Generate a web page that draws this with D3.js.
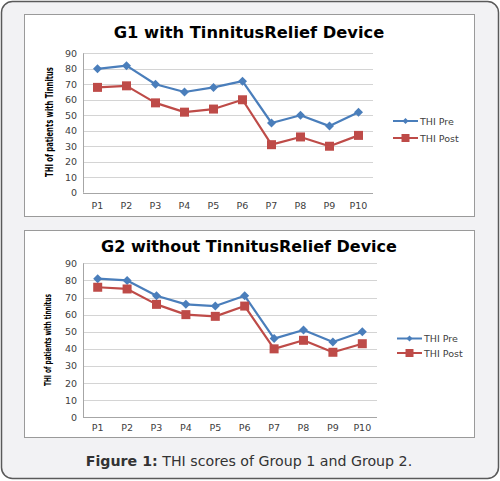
<!DOCTYPE html>
<html>
<head>
<meta charset="utf-8">
<script src="https://cdn.jsdelivr.net/npm/d3@7"></script>
<style>
  body { margin: 0; background: #fff; }
  text { font-family: "DejaVu Sans", Verdana, sans-serif; }
</style>
</head>
<body>
<div id="wrapper"></div>
<script>
const patients = ["P1", "P2", "P3", "P4", "P5", "P6", "P7", "P8", "P9", "P10"]
const yTicks = [0, 10, 20, 30, 40, 50, 60, 70, 80, 90]
const seriesNames = ["THI Pre", "THI Post"]

const g1Pre  = [80, 82, 70, 65, 68, 72, 45, 50, 43, 52]
const g1Post = [68, 69, 58, 52, 54, 60, 31, 36, 30, 37]
const g2Pre  = [81, 80, 71, 66, 65, 71, 46, 51, 44, 50]
const g2Post = [76, 75, 66, 60, 59, 65, 40, 45, 38, 43]

const colors = { pre: "#4a7ebb", post: "#be4b48" }

const width = 500
const height = 481

const svg = d3.select("#wrapper")
  .append("svg")
    .attr("width", width)
    .attr("height", height)

// outer frame
svg.append("rect")
  .attr("x", 1.5).attr("y", 1.5)
  .attr("width", width - 3).attr("height", 477)
  .attr("rx", 11)
  .attr("fill", "#f2f2f4")
  .attr("stroke", "#5a5a5a")
  .attr("stroke-width", 1.5)

const panels = [
  {
    title: "G1 with TinnitusRelief Device",
    yLabel: "THI of patients with Tinnitus",
    pre: g1Pre, post: g1Post,
    box: { x: 24, y: 14, w: 450, h: 202 },
    plot: { left: 83, right: 373, top: 53.3, bottom: 192.7 },
    titleY: 38, titleSize: 16.3,
    yLabelX: 52.5, yLabelY: 122, yLabelSize: 11, yLabelLen: 110,
    xLabelY: 209, legendY: [121, 138]
  },
  {
    title: "G2 without TinnitusRelief Device",
    yLabel: "THI of patients with tinnitus",
    pre: g2Pre, post: g2Post,
    box: { x: 24, y: 230, w: 450, h: 207 },
    plot: { left: 83, right: 377, top: 263.3, bottom: 417.3 },
    titleY: 251.5, titleSize: 16,
    yLabelX: 51, yLabelY: 340, yLabelSize: 9.6, yLabelLen: 92,
    xLabelY: 431, legendY: [338.5, 353]
  }
]

panels.forEach(drawPanel)

function drawPanel(p) {
  const g = svg.append("g")

  g.append("rect")
    .attr("x", p.box.x + 0.5).attr("y", p.box.y + 0.5)
    .attr("width", p.box.w).attr("height", p.box.h)
    .attr("fill", "#fff")
    .attr("stroke", "#9a9a9a")

  const xScale = d3.scaleBand()
    .domain(patients)
    .range([p.plot.left, p.plot.right])

  const yScale = d3.scaleLinear()
    .domain([0, 90])
    .range([p.plot.bottom, p.plot.top])

  // gridlines
  g.append("g")
    .selectAll("line")
    .data(yTicks)
    .join("line")
      .attr("x1", p.plot.left)
      .attr("x2", p.plot.right)
      .attr("y1", d => Math.round(yScale(d)) + 0.5)
      .attr("y2", d => Math.round(yScale(d)) + 0.5)
      .attr("stroke", d => d === 0 ? "#a6a6a6" : "#d4d4d4")
      .attr("stroke-width", 1.2)

  // y axis line
  g.append("line")
    .attr("x1", p.plot.left + 0.5).attr("x2", p.plot.left + 0.5)
    .attr("y1", p.plot.top).attr("y2", p.plot.bottom)
    .attr("stroke", "#a6a6a6")

  // y tick labels
  g.append("g")
    .selectAll("text")
    .data(yTicks)
    .join("text")
      .attr("x", p.plot.left - 6)
      .attr("y", d => yScale(d) + 3.5)
      .attr("text-anchor", "end")
      .attr("font-size", 9.5)
      .attr("fill", "#404040")
      .text(d => d)

  // x tick labels
  g.append("g")
    .selectAll("text")
    .data(patients)
    .join("text")
      .attr("x", d => xScale(d) + xScale.bandwidth() / 2)
      .attr("y", p.xLabelY)
      .attr("text-anchor", "middle")
      .attr("font-size", 9.5)
      .attr("fill", "#404040")
      .text(d => d)

  // title
  g.append("text")
    .attr("x", p.box.x + p.box.w / 2)
    .attr("y", p.titleY)
    .attr("text-anchor", "middle")
    .attr("font-size", p.titleSize)
    .attr("font-weight", "bold")
    .attr("fill", "#000")
    .text(p.title)

  // y axis title (narrow bold in the original): squeeze it to the measured length
  const yTitle = g.append("text")
    .attr("text-anchor", "middle")
    .attr("font-family", "'DejaVu Sans Condensed', 'Liberation Sans', sans-serif")
    .attr("font-size", p.yLabelSize)
    .attr("font-weight", "bold")
    .attr("fill", "#000")
    .text(p.yLabel)
  const natural = yTitle.node().getComputedTextLength()
  yTitle.attr("transform", `translate(${p.yLabelX},${p.yLabelY}) rotate(-90) scale(${p.yLabelLen / natural},1)`)

  const lineGenerator = d3.line()
    .x((d, i) => xScale(patients[i]) + xScale.bandwidth() / 2)
    .y(d => yScale(d))

  const series = [
    { key: "pre", values: p.pre, color: colors.pre },
    { key: "post", values: p.post, color: colors.post }
  ]

  series.forEach(s => {
    g.append("path")
      .attr("d", lineGenerator(s.values))
      .attr("fill", "none")
      .attr("stroke", s.color)
      .attr("stroke-width", 2.2)
      .attr("stroke-linejoin", "round")

    g.append("g")
      .selectAll("path")
      .data(s.values)
      .join("path")
        .attr("transform", (d, i) => `translate(${xScale(patients[i]) + xScale.bandwidth() / 2},${yScale(d)})`)
        .attr("d", s.key === "pre" ? "M0,-4.5L4.5,0L0,4.5L-4.5,0Z" : "M-4.5,-4.5H4.5V4.5H-4.5Z")
        .attr("fill", s.color)
  })

  // legend
  const legend = g.append("g")
  series.forEach((s, i) => {
    const ly = p.legendY[i]
    const lx = p.plot.right + 20
    legend.append("line")
      .attr("x1", lx).attr("x2", lx + 25)
      .attr("y1", ly).attr("y2", ly)
      .attr("stroke", s.color)
      .attr("stroke-width", 2)
    legend.append("path")
      .attr("transform", `translate(${lx + 12.5},${ly})`)
      .attr("d", s.key === "pre" ? "M0,-3L3,0L0,3L-3,0Z" : "M-4,-4H4V4H-4Z")
      .attr("fill", s.color)
    legend.append("text")
      .attr("x", lx + 27)
      .attr("y", ly + 3.5)
      .attr("font-size", 9.5)
      .attr("fill", "#404040")
      .text(seriesNames[i])
  })
}

// caption
const caption = svg.append("text")
  .attr("x", 249)
  .attr("y", 466)
  .attr("text-anchor", "middle")
  .attr("font-family", "'Liberation Sans', Arial, sans-serif")
  .attr("font-size", 14.2)
  .attr("fill", "#333")
caption.append("tspan").attr("font-weight", "bold").text("Figure 1:")
caption.append("tspan").text(" THI scores of Group 1 and Group 2.")
</script>
</body>
</html>
